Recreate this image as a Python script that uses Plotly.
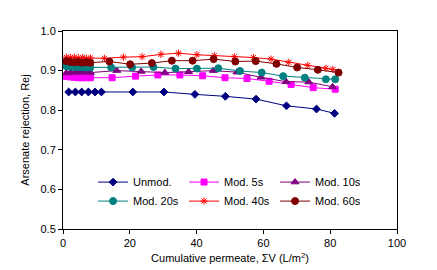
import plotly.graph_objects as go

# cumulative permeate (L/m2) and arsenate rejection for each membrane
x_unmod = [1.7, 3.7, 5.6, 7.6, 9.6, 11.5, 20.9, 30.2, 39.5, 48.6, 57.8, 66.9, 75.9, 81.3]
y_unmod = [0.846, 0.846, 0.846, 0.846, 0.846, 0.846, 0.846, 0.846, 0.840, 0.835, 0.828, 0.811, 0.803, 0.792]

x_5s = [1.0, 2.2, 3.4, 4.6, 5.8, 7.0, 8.2, 14.7, 21.7, 28.4, 35.0, 41.8, 48.5, 55.1, 61.7, 68.3, 74.9, 81.5]
y_5s = [0.885, 0.884, 0.883, 0.882, 0.882, 0.882, 0.882, 0.882, 0.886, 0.889, 0.889, 0.887, 0.882, 0.880, 0.873, 0.865, 0.857, 0.853]

x_10s = [1.0, 2.2, 3.4, 4.6, 5.8, 7.0, 8.2, 16.1, 23.4, 30.5, 37.6, 45.0, 52.1, 59.3, 66.8, 73.6, 80.7]
y_10s = [0.894, 0.895, 0.895, 0.896, 0.896, 0.896, 0.895, 0.900, 0.898, 0.895, 0.897, 0.900, 0.896, 0.883, 0.872, 0.871, 0.859]

x_20s = [1.0, 2.2, 3.4, 4.6, 5.8, 7.0, 8.2, 14.4, 20.7, 27.1, 33.7, 40.1, 46.5, 53.0, 59.5, 65.9, 72.4, 78.7, 81.5]
y_20s = [0.911, 0.910, 0.909, 0.909, 0.908, 0.908, 0.908, 0.908, 0.908, 0.909, 0.905, 0.905, 0.906, 0.899, 0.895, 0.886, 0.882, 0.878, 0.878]

x_40s = [1.0, 2.2, 3.4, 4.6, 5.8, 7.0, 8.2, 12.4, 18.1, 23.7, 29.3, 34.6, 40.1, 45.3, 51.3, 57.0, 62.3, 67.6, 73.3, 78.7, 80.8]
y_40s = [0.934, 0.933, 0.934, 0.932, 0.933, 0.931, 0.932, 0.931, 0.934, 0.935, 0.941, 0.944, 0.940, 0.938, 0.935, 0.933, 0.929, 0.921, 0.913, 0.906, 0.903]

x_60s = [1.0, 2.2, 3.4, 4.6, 5.8, 7.0, 8.2, 13.9, 20.1, 26.6, 32.6, 38.8, 45.1, 51.6, 57.7, 63.9, 70.1, 76.3, 82.5]
y_60s = [0.924, 0.922, 0.921, 0.922, 0.920, 0.921, 0.920, 0.923, 0.916, 0.919, 0.925, 0.925, 0.929, 0.923, 0.924, 0.917, 0.908, 0.902, 0.895]

# name, x, y, colour, marker, size, legend row
series = [
    ("Unmod.", x_unmod, y_unmod, "#000080", "diamond", 6, "legend"),
    ("Mod. 5s", x_5s, y_5s, "#FF00FF", "square", 6, "legend"),
    ("Mod. 10s", x_10s, y_10s, "#800080", "triangle-up", 7, "legend"),
    ("Mod. 20s", x_20s, y_20s, "#008080", "circle", 7, "legend2"),
    ("Mod. 40s", x_40s, y_40s, "#FF0000", "asterisk-open", 6, "legend2"),
    ("Mod. 60s", x_60s, y_60s, "#800000", "circle", 7, "legend2"),
]

fig = go.Figure()
for name, xs, ys, col, sym, sz, leg in series:
    fig.add_trace(go.Scatter(
        x=xs, y=ys, name=name, mode="lines+markers", legend=leg,
        line=dict(color=col, width=1),
        marker=dict(symbol=sym, size=sz, color=col, line=dict(color=col, width=1)),
    ))

axis_common = dict(showline=True, linecolor="black", linewidth=1, mirror=True,
                   ticks="outside", ticklen=4, tickcolor="black", showgrid=False,
                   zeroline=False, tickfont=dict(size=11, color="black"))

fig.update_xaxes(range=[0, 100], dtick=20, tick0=0,
                 title=dict(text="Cumulative permeate, ΣV (L/m<sup>2</sup>)", font=dict(size=11), standoff=6),
                 **axis_common)
fig.update_yaxes(range=[0.5, 1.0], dtick=0.1, tick0=0.5, tickformat=".1f",
                 title=dict(text="Arsenate rejection, Rej", font=dict(size=11), standoff=8),
                 **axis_common)

leg_style = dict(orientation="h", x=0.09, xanchor="left", yanchor="middle",
                 entrywidth=46, entrywidthmode="pixels", bgcolor="rgba(0,0,0,0)",
                 font=dict(size=11), itemwidth=30)

fig.update_layout(
    width=437, height=270,
    margin=dict(l=55, r=48, t=23, b=49),
    plot_bgcolor="white", paper_bgcolor="white",
    font=dict(family="Liberation Sans, Arial, sans-serif", size=11, color="black"),
    legend=dict(y=0.237, **leg_style),
    legend2=dict(y=0.141, **leg_style),
)

fig.write_html("out.html")
